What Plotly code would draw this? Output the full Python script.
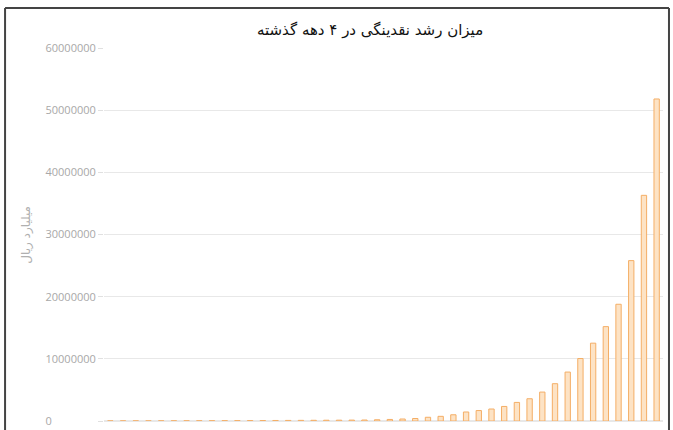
import plotly.graph_objects as go

years = [str(y) for y in range(1357, 1401)]
liquidity = [
    20000, 22000, 25000, 28000, 32000, 36000, 40000, 45000, 50000, 56000,
    62000, 70000, 78000, 86000, 95000, 105000, 115000, 125000, 135000, 145000,
    160000, 200000, 250000, 320000, 400000, 600000, 750000, 1000000, 1450000, 1680000,
    1930000, 2340000, 2990000, 3580000, 4650000, 6000000, 7870000, 10050000, 12520000, 15180000,
    18780000, 25800000, 36300000, 51800000,
]
y_ticks = [0, 10000000, 20000000, 30000000, 40000000, 50000000, 60000000]
y_tick_labels = ["0", "10000000", "20000000", "30000000", "40000000", "50000000", "60000000"]
title_text = "میزان رشد نقدینگی در ۴ دهه گذشته"
y_title = "میلیارد ریال"

# labels in the reference are left-aligned: pad with figure spaces (digit width)
padded = [t + "\u2007" * (8 - len(t)) for t in y_tick_labels]

fig = go.Figure()
fig.add_trace(go.Bar(
    x=years,
    y=liquidity,
    marker=dict(color="#fde3c5", line=dict(color="#f4ae66", width=1)),
    hoverinfo="x+y",
))

fig.update_layout(
    width=673,
    height=430,
    margin=dict(l=104, r=10, t=48, b=9, autoexpand=False),
    paper_bgcolor="white",
    plot_bgcolor="white",
    showlegend=False,
    bargap=0.58,
    title=dict(
        text=title_text,
        x=0.476, xanchor="center", xref="paper",
        y=1 - 30 / 430, yanchor="middle", yref="container",
        font=dict(family="DejaVu Sans", size=15, color="#111111"),
    ),
    xaxis=dict(
        type="category",
        showticklabels=False,
        showgrid=False,
        showline=False,
        ticks="",
        automargin=False,
    ),
    yaxis=dict(
        range=[0, 60000000],
        tickvals=y_ticks,
        ticktext=padded,
        showgrid=True,
        gridcolor="#e8e8e8",
        gridwidth=1,
        zeroline=True,
        zerolinecolor="#e8e8e8",
        ticks="outside",
        ticklen=5,
        tickcolor="#e0e0e0",
        tickfont=dict(family="Open Sans", size=11, color="#a8a8a8"),
        showline=False,
        automargin=False,
    ),
    annotations=[dict(
        text=y_title, textangle=-90,
        x=-0.138, xref="paper", xanchor="center",
        y=0.499, yref="paper", yanchor="middle",
        showarrow=False,
        font=dict(family="DejaVu Sans", size=12, color="#b0b0b0"),
    )],
    shapes=[
        dict(type="line", xref="paper", yref="paper", x0=-0.177, x1=1.0107, y0=1.107, y1=1.107,
             line=dict(color="#444444", width=2)),
        dict(type="line", xref="paper", yref="paper", x0=-0.177, x1=-0.177, y0=1.107, y1=-0.1,
             line=dict(color="#444444", width=2)),
        dict(type="line", xref="paper", yref="paper", x0=1.0107, x1=1.0107, y0=1.107, y1=-0.1,
             line=dict(color="#444444", width=2)),
    ],
)

fig.write_html("out.html", config={"displayModeBar": False},
               post_script="document.body.style.margin='0';")
